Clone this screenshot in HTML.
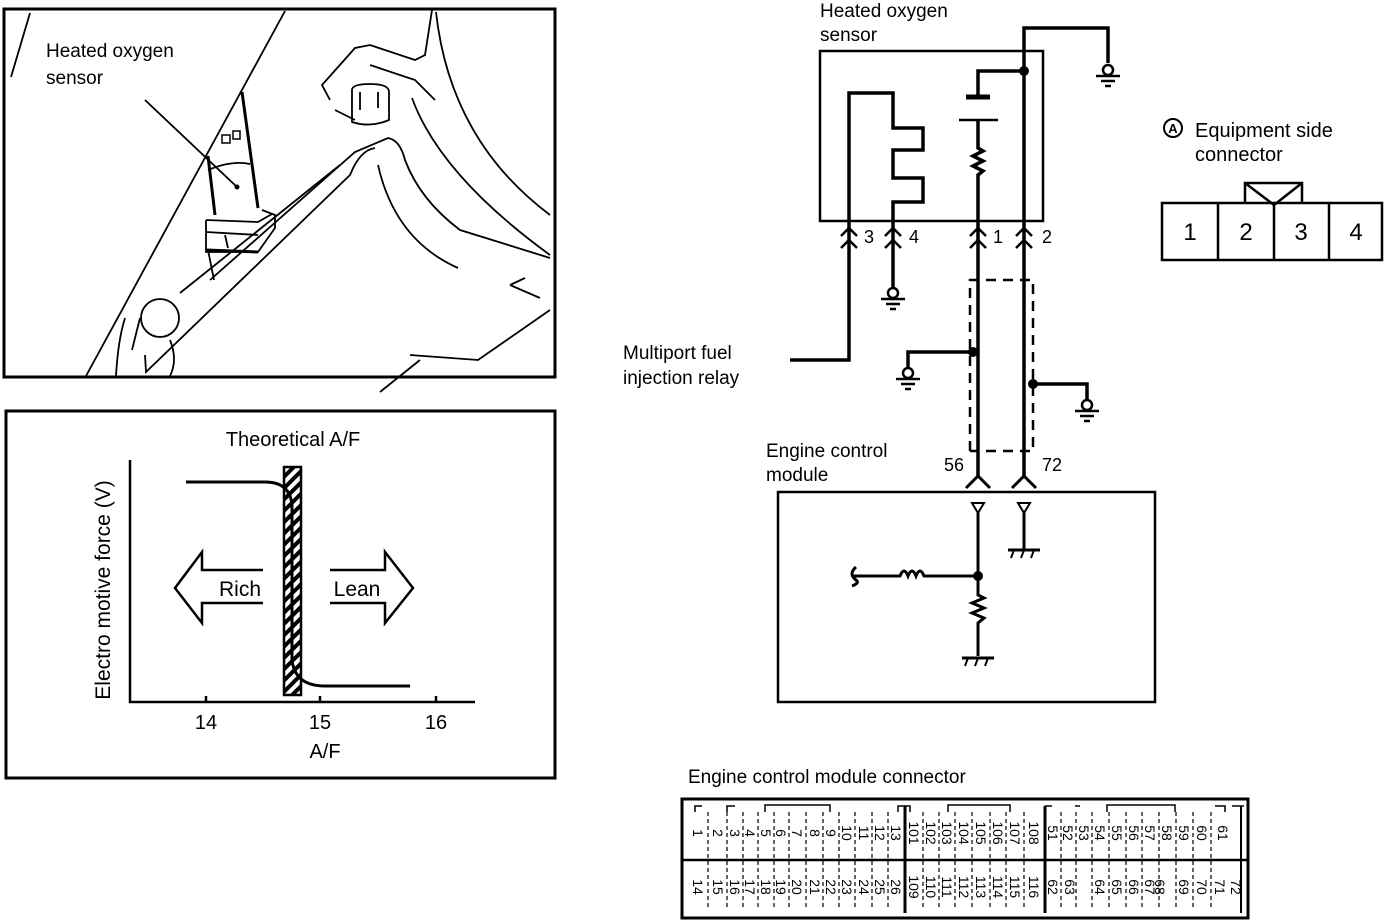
<!DOCTYPE html>
<html><head><meta charset="utf-8"><style>
html,body{margin:0;padding:0;background:#fff;}
svg{display:block;font-family:"Liberation Sans",sans-serif;}
</style></head><body>
<svg width="1392" height="922" viewBox="0 0 1392 922" xmlns="http://www.w3.org/2000/svg">
<defs>
<pattern id="hatch" width="8" height="8" patternUnits="userSpaceOnUse" patternTransform="rotate(45)">
<rect width="8" height="8" fill="#fff"/><rect width="4" height="8" fill="#000"/></pattern>
<g id="gnd" fill="none" stroke="#000" stroke-width="2.5"><circle cx="0" cy="0" r="5" fill="#fff"/><line x1="-12" y1="6" x2="12" y2="6"/><line x1="-7" y1="11" x2="7" y2="11"/><line x1="-3" y1="16" x2="3" y2="16"/></g>
<g id="chev" fill="none" stroke="#000" stroke-width="2.5"><polyline points="-8,8 0,0 8,8"/><polyline points="-8,20 0,12 8,20"/></g>
<g id="fgnd" fill="none" stroke="#000" stroke-width="3"><line x1="-16" y1="0" x2="16" y2="0"/><line x1="-10" y1="0" x2="-13" y2="8" stroke-width="2"/><line x1="0" y1="0" x2="-3" y2="8" stroke-width="2"/><line x1="10" y1="0" x2="7" y2="8" stroke-width="2"/></g>
</defs>

<!-- Panel 1: photo -->
<rect x="4" y="9" width="551" height="368" fill="none" stroke="#000" stroke-width="3"/>
<g fill="none" stroke="#000" stroke-width="1.8">
<line x1="11" y1="77" x2="30" y2="13"/>
<line x1="285" y1="11" x2="86" y2="376"/>
<line x1="145" y1="100" x2="237" y2="187"/>
<path d="M242 92 L258 208 M208 156 L215 215" stroke-width="3"/>
<path d="M208 170 Q232 160 250 164"/>
<path d="M206 220 L206 252 L258 252 L275 228 L275 215 L262 210 M206 220 L258 222 L272 214"/>
<path d="M206 232 L258 235 M208 250 L214 280 M225 235 L228 248"/>
<path d="M206 250 L258 252" stroke-width="3"/>
<path d="M210 280 L355 152 L388 138 Q400 140 405 160 Q420 200 460 230 L550 258"/>
<path d="M145 355 L146 372 L350 175 Q360 150 375 148"/>
<path d="M180 293 L340 165"/>
<circle cx="160" cy="318" r="19"/>
<path d="M140 318 L132 350 M170 340 Q178 360 170 376 M116 376 Q118 340 125 318"/>
<path d="M352 90 Q352 84 370 84 Q389 84 389 92 L389 120 Q370 128 352 122 Z M360 92 L360 110 M378 92 L378 108"/>
<path d="M330 100 L322 85 L355 48 L370 45 L415 60 L425 55 L432 10"/>
<path d="M335 110 L355 120 M370 65 L415 80 L435 100"/>
<path d="M436 12 Q450 140 550 215"/>
<path d="M412 98 Q440 175 550 255 M378 165 Q395 240 458 268"/>
<path d="M510 285 L540 298 M510 285 L525 278"/>
<path d="M550 310 L478 360 L410 355 M380 392 L420 360"/>
</g>
<text x="46" y="57" font-size="19">Heated oxygen</text>
<text x="46" y="84" font-size="19">sensor</text>
<circle cx="237" cy="187" r="2.5"/>
<rect x="222" y="135" width="8" height="8" fill="none" stroke="#000" stroke-width="1.5"/>
<rect x="233" y="131" width="7" height="8" fill="none" stroke="#000" stroke-width="1.5"/>

<!-- Panel 2: graph -->
<rect x="6" y="411" width="549" height="367" fill="none" stroke="#000" stroke-width="3"/>
<text x="293" y="446" font-size="20" text-anchor="middle">Theoretical A/F</text>
<g fill="none" stroke="#000" stroke-width="2.5">
<line x1="130" y1="460" x2="130" y2="703"/>
<line x1="129" y1="702" x2="475" y2="702"/>
<line x1="206" y1="696" x2="206" y2="702"/><line x1="320" y1="696" x2="320" y2="702"/><line x1="436" y1="696" x2="436" y2="702"/>
</g>
<rect x="284" y="467" width="17" height="228" fill="url(#hatch)" stroke="#000" stroke-width="2.5"/>
<path d="M186 482 L265 482 Q290 482 292 505 L292 660 Q295 686 325 686 L410 686" fill="none" stroke="#000" stroke-width="3"/>
<text x="206" y="729" font-size="20" text-anchor="middle">14</text>
<text x="320" y="729" font-size="20" text-anchor="middle">15</text>
<text x="436" y="729" font-size="20" text-anchor="middle">16</text>
<text x="325" y="758" font-size="20" text-anchor="middle">A/F</text>
<text transform="translate(110,590) rotate(-90)" font-size="21" text-anchor="middle">Electro motive force (V)</text>
<path d="M263 570 L202 570 L202 552 L175 588 L202 623 L202 603 L263 603" fill="none" stroke="#000" stroke-width="2.5"/>
<path d="M330 570 L385 570 L385 552 L413 588 L385 623 L385 603 L330 603" fill="none" stroke="#000" stroke-width="2.5"/>
<text x="240" y="596" font-size="21" text-anchor="middle">Rich</text>
<text x="357" y="596" font-size="21" text-anchor="middle">Lean</text>

<!-- Circuit -->
<text x="820" y="17" font-size="19">Heated oxygen</text>
<text x="820" y="41" font-size="19">sensor</text>
<rect x="820" y="51" width="223" height="170" fill="none" stroke="#000" stroke-width="2.5"/>
<g fill="none" stroke="#000" stroke-width="3.5">
<polyline points="1024,478 1024,28 1108,28 1108,63"/>
<polyline points="1024,71 978,71 978,97"/>
<line x1="966" y1="97" x2="990" y2="97" stroke-width="5"/>
<line x1="959" y1="120" x2="998" y2="120" stroke-width="2.5"/>
<polyline points="978,120 978,148 983,151 973,156 983,161 973,166 983,171 978,175 978,478"/>
<polyline points="790,360 849,360 849,93 893,93 893,128 923,128 923,150 893,150 893,178 923,178 923,202 893,202 893,288"/>
<polyline points="973,352 908,352 908,368"/>
<polyline points="1033,384 1087,384 1087,400"/>
</g>
<use href="#gnd" x="1108" y="70"/>
<use href="#gnd" x="893" y="293"/>
<use href="#gnd" x="908" y="373"/>
<use href="#gnd" x="1087" y="405"/>
<circle cx="1024" cy="71" r="5"/><circle cx="973" cy="352" r="5"/><circle cx="1033" cy="384" r="5"/>
<use href="#chev" x="849" y="228"/><use href="#chev" x="893" y="228"/><use href="#chev" x="978" y="228"/><use href="#chev" x="1024" y="228"/>
<g font-size="18"><text x="864" y="243">3</text><text x="909" y="243">4</text><text x="993" y="243">1</text><text x="1042" y="243">2</text></g>
<path d="M970 451 L970 280 L1033 280 L1033 451 L970 451" fill="none" stroke="#000" stroke-width="2.5" stroke-dasharray="10,7"/>
<text x="623" y="359" font-size="19">Multiport fuel</text>
<text x="623" y="384" font-size="19">injection relay</text>
<text x="766" y="457" font-size="19">Engine control</text>
<text x="766" y="481" font-size="19">module</text>
<text x="944" y="471" font-size="18">56</text><text x="1042" y="471" font-size="18">72</text>
<g fill="none" stroke="#000" stroke-width="3"><polyline points="966,488 978,476 990,488"/><polyline points="1012,488 1024,476 1036,488"/></g>
<rect x="778" y="492" width="377" height="210" fill="none" stroke="#000" stroke-width="2.5"/>
<g fill="none" stroke="#000" stroke-width="3">
<polygon points="972,503 984,503 978,513" stroke-width="2"/><polygon points="1018,503 1030,503 1024,513" stroke-width="2"/>
<polyline points="978,513 978,595 984,598 972,603 984,608 972,613 984,618 978,623 978,656"/>
<line x1="1024" y1="513" x2="1024" y2="549"/>
<path d="M856 567 Q848 574 856 580 Q860 583 852 586 M852 576 L900 576 Q904 566 908 576 Q912 566 916 576 Q920 566 924 576 L978 576"/>
</g>
<circle cx="978" cy="576" r="5"/>
<use href="#fgnd" x="1024" y="550"/><use href="#fgnd" x="978" y="658"/>

<!-- Equipment side connector -->
<circle cx="1173" cy="128" r="9" fill="none" stroke="#000" stroke-width="2"/>
<text x="1173" y="133" font-size="13" font-weight="bold" text-anchor="middle">A</text>
<text x="1195" y="137" font-size="20">Equipment side</text>
<text x="1195" y="161" font-size="20">connector</text>
<g fill="none" stroke="#000" stroke-width="2.5">
<rect x="1162" y="203" width="220" height="57"/>
<line x1="1218" y1="203" x2="1218" y2="260"/><line x1="1274" y1="203" x2="1274" y2="260"/><line x1="1329" y1="203" x2="1329" y2="260"/>
<polyline points="1245,203 1245,183 1302,183 1302,203"/><polyline points="1245,183 1274,205 1302,183"/>
</g>
<g font-size="24" text-anchor="middle"><text x="1190" y="240">1</text><text x="1246" y="240">2</text><text x="1301" y="240">3</text><text x="1356" y="240">4</text></g>

<!-- ECM connector -->
<text x="688" y="783" font-size="19">Engine control module connector</text>
<rect x="682" y="799" width="566" height="119" fill="none" stroke="#000" stroke-width="3"/>
<line x1="682" y1="860" x2="1248" y2="860" stroke="#000" stroke-width="2.5"/>
<line x1="905" y1="806" x2="905" y2="913" stroke="#000" stroke-width="3"/>
<line x1="1045" y1="806" x2="1045" y2="913" stroke="#000" stroke-width="3"/>
<line x1="1241" y1="806" x2="1241" y2="913" stroke="#000" stroke-width="2"/>
<g stroke="#000" stroke-width="1.2" stroke-dasharray="4,3">
<line x1="708" y1="812" x2="708" y2="910"/><line x1="727" y1="812" x2="727" y2="910"/><line x1="743" y1="812" x2="743" y2="910"/><line x1="758" y1="812" x2="758" y2="910"/><line x1="774" y1="812" x2="774" y2="910"/><line x1="789" y1="812" x2="789" y2="910"/><line x1="806" y1="812" x2="806" y2="910"/><line x1="823" y1="812" x2="823" y2="910"/><line x1="839" y1="812" x2="839" y2="910"/><line x1="855" y1="812" x2="855" y2="910"/><line x1="872" y1="812" x2="872" y2="910"/><line x1="888" y1="812" x2="888" y2="910"/>
<line x1="923" y1="812" x2="923" y2="910"/><line x1="939" y1="812" x2="939" y2="910"/><line x1="955" y1="812" x2="955" y2="910"/><line x1="972" y1="812" x2="972" y2="910"/><line x1="990" y1="812" x2="990" y2="910"/><line x1="1006" y1="812" x2="1006" y2="910"/><line x1="1024" y1="812" x2="1024" y2="910"/>
<line x1="1061" y1="812" x2="1061" y2="910"/><line x1="1076" y1="812" x2="1076" y2="910"/><line x1="1092" y1="812" x2="1092" y2="910"/><line x1="1109" y1="812" x2="1109" y2="910"/><line x1="1126" y1="812" x2="1126" y2="910"/><line x1="1142" y1="812" x2="1142" y2="910"/><line x1="1159" y1="812" x2="1159" y2="910"/><line x1="1176" y1="812" x2="1176" y2="910"/><line x1="1193" y1="812" x2="1193" y2="910"/><line x1="1211" y1="812" x2="1211" y2="910"/>
</g>
<g fill="none" stroke="#000" stroke-width="1.5">
<path d="M695 812 L695 806 L702 806 M727 812 L727 806 L735 806 M765 812 L765 805 L830 805 L830 812 M898 812 L898 806 L910 806 L910 812 M948 812 L948 805 L1010 805 L1010 812 M1045 806 L1052 806 M1075 806 L1080 806 M1107 812 L1107 805 L1175 805 L1175 812 M1215 806 L1225 806 L1225 812 M1232 806 L1244 806"/>
</g>
<g font-size="14" text-anchor="middle" dominant-baseline="central">
<text transform="translate(698,833) rotate(90)">1</text><text transform="translate(718,833) rotate(90)">2</text><text transform="translate(735,833) rotate(90)">3</text><text transform="translate(750,833) rotate(90)">4</text><text transform="translate(766,833) rotate(90)">5</text><text transform="translate(781,833) rotate(90)">6</text><text transform="translate(797,833) rotate(90)">7</text><text transform="translate(815,833) rotate(90)">8</text><text transform="translate(831,833) rotate(90)">9</text><text transform="translate(847,833) rotate(90)">10</text><text transform="translate(864,833) rotate(90)">11</text><text transform="translate(880,833) rotate(90)">12</text><text transform="translate(896,833) rotate(90)">13</text>
<text transform="translate(914,833) rotate(90)">101</text><text transform="translate(931,833) rotate(90)">102</text><text transform="translate(947,833) rotate(90)">103</text><text transform="translate(964,833) rotate(90)">104</text><text transform="translate(981,833) rotate(90)">105</text><text transform="translate(998,833) rotate(90)">106</text><text transform="translate(1015,833) rotate(90)">107</text><text transform="translate(1034,833) rotate(90)">108</text>
<text transform="translate(1053,833) rotate(90)">51</text><text transform="translate(1068,833) rotate(90)">52</text><text transform="translate(1084,833) rotate(90)">53</text><text transform="translate(1100,833) rotate(90)">54</text><text transform="translate(1117,833) rotate(90)">55</text><text transform="translate(1134,833) rotate(90)">56</text><text transform="translate(1150,833) rotate(90)">57</text><text transform="translate(1167,833) rotate(90)">58</text><text transform="translate(1184,833) rotate(90)">59</text><text transform="translate(1202,833) rotate(90)">60</text><text transform="translate(1223,833) rotate(90)">61</text>
<text transform="translate(698,887) rotate(90)">14</text><text transform="translate(718,887) rotate(90)">15</text><text transform="translate(735,887) rotate(90)">16</text><text transform="translate(750,887) rotate(90)">17</text><text transform="translate(766,887) rotate(90)">18</text><text transform="translate(781,887) rotate(90)">19</text><text transform="translate(797,887) rotate(90)">20</text><text transform="translate(815,887) rotate(90)">21</text><text transform="translate(831,887) rotate(90)">22</text><text transform="translate(847,887) rotate(90)">23</text><text transform="translate(864,887) rotate(90)">24</text><text transform="translate(880,887) rotate(90)">25</text><text transform="translate(896,887) rotate(90)">26</text>
<text transform="translate(914,887) rotate(90)">109</text><text transform="translate(931,887) rotate(90)">110</text><text transform="translate(947,887) rotate(90)">111</text><text transform="translate(964,887) rotate(90)">112</text><text transform="translate(981,887) rotate(90)">113</text><text transform="translate(998,887) rotate(90)">114</text><text transform="translate(1015,887) rotate(90)">115</text><text transform="translate(1034,887) rotate(90)">116</text>
<text transform="translate(1053,887) rotate(90)">62</text><text transform="translate(1070,887) rotate(90)">63</text><text transform="translate(1100,887) rotate(90)">64</text><text transform="translate(1117,887) rotate(90)">65</text><text transform="translate(1134,887) rotate(90)">66</text><text transform="translate(1150,887) rotate(90)">67</text><text transform="translate(1160,887) rotate(90)">68</text><text transform="translate(1184,887) rotate(90)">69</text><text transform="translate(1202,887) rotate(90)">70</text><text transform="translate(1220,887) rotate(90)">71</text><text transform="translate(1236,887) rotate(90)">72</text>
</g>
</svg>
</body></html>
